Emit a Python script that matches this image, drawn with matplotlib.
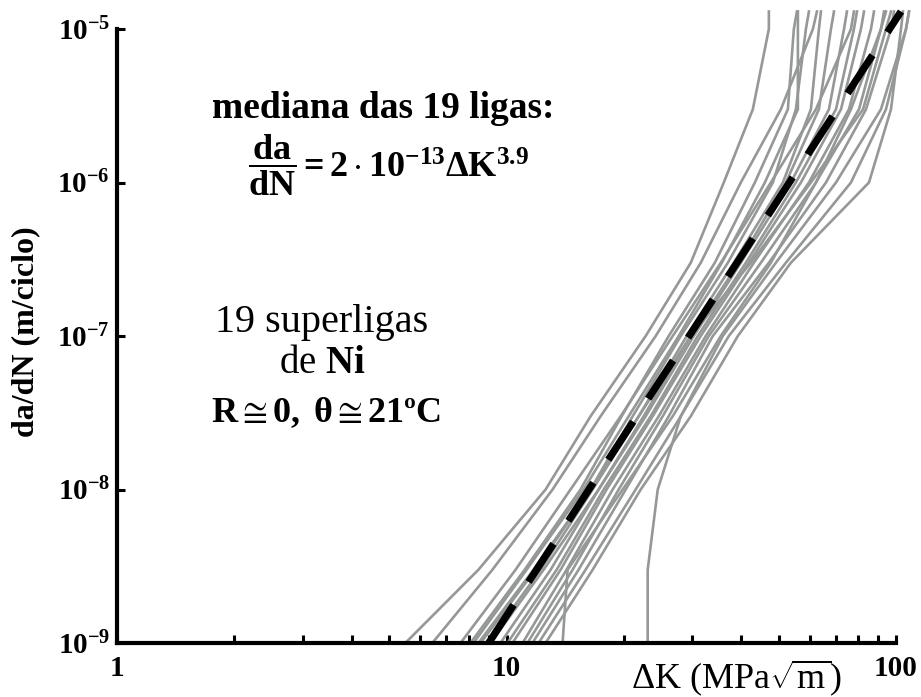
import matplotlib
matplotlib.use('Agg')
import matplotlib.pyplot as plt
from matplotlib.ticker import FixedLocator, NullLocator, FixedFormatter, NullFormatter

plt.rcParams['mathtext.fontset'] = 'custom'
plt.rcParams['mathtext.rm'] = 'Liberation Serif'
plt.rcParams['mathtext.bf'] = 'Liberation Serif:bold'
plt.rcParams['mathtext.it'] = 'Liberation Serif:italic'
plt.rcParams['font.family'] = ['Liberation Serif', 'DejaVu Sans']

# ---- data ----
dadn_levels = [1e-9, 3e-9, 1e-8, 3e-8, 1e-7, 3e-7, 1e-6, 3e-6, 1e-5, 1.3e-5]

c01 = [5.50, 8.47, 12.6, 16.44, 22.77, 29.72, 36.13, 42.90, 47.16, 47.16]
c02 = [6.45, 9.20, 13.13, 17.44, 24.16, 31.53, 39.96, 50.63, 61.19, 62.66]
c03 = [8.08, 11.13, 15.49, 19.75, 26.09, 34.26, 43.41, 52.77, 54.67, 55.66]
c04 = [8.23, 11.26, 15.77, 20.59, 27.68, 35.71, 46.06, 55.99, 55.99, 55.99]
c05 = [8.47, 11.73, 16.44, 21.08, 28.02, 37.00, 48.29, 55.33, 58.71, 59.76]
c06 = [8.94, 12.23, 16.64, 21.85, 29.03, 38.33, 51.23, 60.47, 63.40, 64.16]
c07 = [9.10, 12.45, 17.24, 22.50, 29.72, 39.49, 52.15, 63.40, 68.08, 69.30]
c08 = [9.65, 12.98, 17.24, 22.77, 30.25, 39.96, 53.71, 67.28, 73.54, 74.82]
c09 = [10.06, 13.45, 17.76, 23.45, 30.97, 41.16, 55.33, 70.13, 77.98, 79.40]
c10 = [10.36, 13.77, 18.07, 23.73, 31.53, 41.90, 57.00, 72.24, 81.28, 82.76]
c11 = [11.0, 14.26, 18.73, 24.59, 32.48, 43.15, 59.76, 75.72, 86.24, 87.80]
c12 = [11.32, 14.78, 19.41, 25.18, 33.06, 44.98, 62.29, 80.36, 91.49, 93.15]
c13 = [11.66, 15.31, 20.23, 26.09, 33.86, 47.16, 66.10, 83.75, 97.08, 98.83]
c14 = [12.09, 15.96, 21.46, 28.02, 37.22, 52.15, 76.62, 94.25, 106.1, 108.0]
c15 = [8.58, 11.87, 16.44, 21.85, 29.72, 42.39, 60.47, 82.30, 94.25, 97.08]
c16 = [7.62, 10.55, 14.60, 19.64, 26.72, 35.49, 47.72, 62.29, 76.62, 77.98]
c17 = [12.60, 16.64, 22.11, 29.72, 39.26, 53.71, 85.23, 97.08, 103.0, 104.2]
c18 = [13.93, 14.35, 19.87, 26.72, 35.49, 47.72, 62.29, 76.62, 91.49, 94.25]
c19 = [23.04, 23.04, 24.45, 28.02, 35.92, 49.15, 70.13, 91.49, 106.1, 108.0]
alloys = [c01, c02, c03, c04, c05, c06, c07, c08, c09, c10,
          c11, c12, c13, c14, c15, c16, c17, c18, c19]

median_dK = [9.0, 103.0]
median_dadn = [1e-9, 1.3e-5]

x_ticks = [1, 10, 100]
x_ticklabels = ['1', '10', '100']
x_minor = [2, 3, 4, 5, 6, 7, 8, 9, 20, 30, 40, 50, 60, 70, 80, 90]
y_ticks = [1e-9, 1e-8, 1e-7, 1e-6, 1e-5]
y_ticklabels = [r'$\mathbf{10^{-9}}$', r'$\mathbf{10^{-8}}$', r'$\mathbf{10^{-7}}$',
                r'$\mathbf{10^{-6}}$', r'$\mathbf{10^{-5}}$']

W, H = 921, 697
fig = plt.figure(figsize=(W / 100, H / 100), dpi=100)
ax = fig.add_axes([117 / W, 1 - 643 / H, (896 - 117) / W, (643 - 29) / H])
ax.set_xscale('log')
ax.set_yscale('log')
ax.set_xlim(1, 100)
ax.set_ylim(1e-9, 1e-5)

grey = '#959897'
for c in alloys:
    ax.plot(c, dadn_levels, color=grey, lw=1.9, clip_on=False, zorder=2)
ax.plot(median_dK, median_dadn, color='black', lw=5.2, dashes=(6.3, 3.8),
        dash_capstyle='butt', clip_on=False, zorder=3)

for s in ['top', 'right']:
    ax.spines[s].set_visible(False)
for s in ['left', 'bottom']:
    ax.spines[s].set_linewidth(3)

ax.xaxis.set_major_locator(FixedLocator(x_ticks))
ax.xaxis.set_major_formatter(FixedFormatter(x_ticklabels))
ax.xaxis.set_minor_locator(FixedLocator(x_minor))
ax.xaxis.set_minor_formatter(NullFormatter())
ax.yaxis.set_major_locator(FixedLocator(y_ticks))
ax.yaxis.set_major_formatter(FixedFormatter(y_ticklabels))
ax.yaxis.set_minor_locator(NullLocator())

ax.tick_params(which='both', direction='in', length=6, width=2.2, color='black')
ax.tick_params(axis='x', which='major', pad=9, labelsize=21)
ax.tick_params(axis='y', which='major', pad=5, labelsize=21)
for lab in ax.get_xticklabels():
    lab.set_fontweight('bold')

def fx(px):
    return px / W

def fy(py):
    return 1 - py / H

fig.text(fx(736), fy(678), r'$\mathrm{\Delta K\ (MPa\sqrt{m})}$', fontsize=26,
         ha='center', va='center')
fig.text(fx(26), fy(332), 'da/dN (m/ciclo)', fontsize=23, fontweight='bold',
         rotation=90, ha='center', va='center')

fig.text(fx(383), fy(118), 'mediana das 19 ligas:', fontsize=27, fontweight='bold',
         ha='center', va='baseline')
fig.text(fx(388), fy(165),
         r'$\dfrac{\mathbf{da}}{\mathbf{dN}}\mathbf{=2\cdot10^{-13}\Delta K^{3.9}}$',
         fontsize=26, ha='center', va='center')
fig.text(fx(322), fy(332), '19 superligas', fontsize=29, ha='center', va='baseline')
fig.text(fx(322), fy(373), r'de $\mathbf{Ni}$', fontsize=28, ha='center', va='baseline')
fig.text(fx(326), fy(422),
         r'$\mathbf{R}\cong\mathbf{0,}\ \mathbf{\theta}\cong\mathbf{21ºC}$',
         fontsize=26, ha='center', va='baseline')

fig.savefig('out.png', dpi=100)
